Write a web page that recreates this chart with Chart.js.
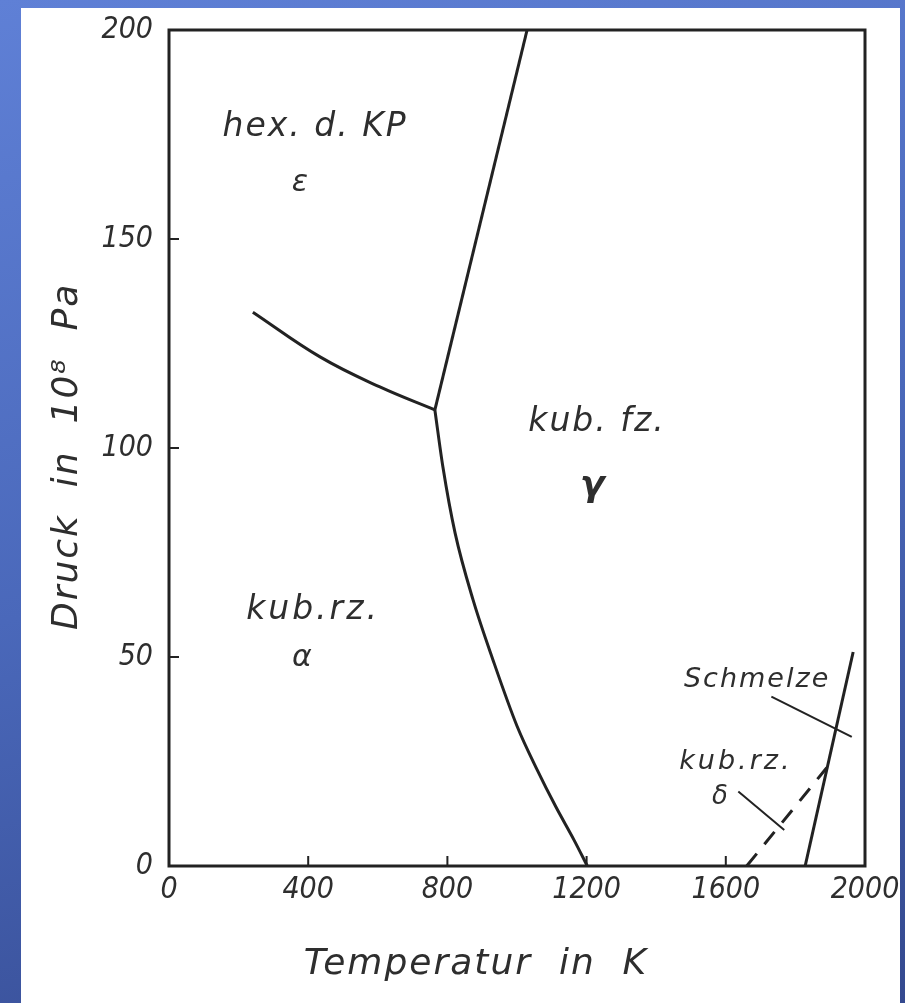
<!DOCTYPE html>
<html lang="de">
<head>
<meta charset="UTF-8">
<title>Zustandsdiagramm Eisen</title>
<script src="https://cdn.jsdelivr.net/npm/chart.js"></script>
<style>
  html, body { margin: 0; padding: 0; }
  body {
    width: 905px;
    height: 1003px;
    overflow: hidden;
    position: relative;
    background: linear-gradient(165deg, #5f80d6 0%, #4a68ba 50%, #34498f 100%);
  }
  .sheet {
    position: absolute;
    left: 21px;
    top: 8px;
    width: 879px;
    height: 995px;
    background: #fff;
  }
  #chart { position: absolute; left: 0; top: 0; }
</style>
</head>
<body>
<div class="sheet"></div>
<canvas id="chart" width="905" height="1003"></canvas>
<script>
const xTicks = [0, 400, 800, 1200, 1600, 2000];
const yTicks = [0, 50, 100, 150, 200];

// alpha / epsilon
const alphaEpsT = [241, 434, 606, 764];
const alphaEpsP = [132.5, 121.8, 114.6, 109.1];
// epsilon / gamma
const epsGammaT = [764, 1029];
const epsGammaP = [109.1, 200];
// alpha / gamma
const alphaGammaT = [764, 787, 822, 874, 931, 1000, 1058, 1112, 1164, 1202];
const alphaGammaP = [109.1, 95.5, 79.7, 63.6, 49.3, 33.5, 23.0, 14.1, 6.2, 0];
// Schmelzkurve
const meltT = [1828, 1966];
const meltP = [0, 51.2];
// gamma / delta (gestrichelt)
const deltaT = [1660, 1890];
const deltaP = [0, 23.5];
// Hinweisstriche
const schmelzPtrT = [1731, 1962];
const schmelzPtrP = [40.5, 30.9];
const deltaPtrT = [1636, 1768];
const deltaPtrP = [17.8, 8.6];

// Beschriftungen im Diagramm (Lage in Datenkoordinaten)
const labels = [
  { text: "hex. d. KP", t: 420, p: 176.6, size: 33, sp: 2 },
  { text: "ε", t: 376, p: 163.4, size: 30, sp: 0 },
  { text: "kub. fz.", t: 1230, p: 106.2, size: 33, sp: 2 },
  { text: "γ", t: 1216, p: 90.7, size: 36, sp: 0, bold: true },
  { text: "kub.rz.", t: 414, p: 61.2, size: 33, sp: 3 },
  { text: "α", t: 382, p: 49.8, size: 30, sp: 0 },
  { text: "Schmelze", t: 1690, p: 44.5, size: 27, sp: 2 },
  { text: "kub.rz.", t: 1629, p: 24.9, size: 27, sp: 3 },
  { text: "δ", t: 1583, p: 16.5, size: 26, sp: 0 }
];

const ink = "#222";
const textInk = "#2e2e2e";
const fontFam = "'DejaVu Sans', sans-serif";
const tickFam = "'DejaVu Sans Condensed', 'DejaVu Sans', sans-serif";

function pts(ts, ps) {
  return ts.map((t, i) => ({ x: t, y: ps[i] }));
}

function line(ts, ps, extra) {
  return Object.assign({
    data: pts(ts, ps),
    showLine: true,
    borderColor: ink,
    borderWidth: 3,
    pointRadius: 0,
    fill: false
  }, extra || {});
}

// Rahmen und nach innen zeigende Striche
const framePlugin = {
  id: "frame",
  afterDraw(chart) {
    const { ctx, chartArea: a, scales } = chart;
    ctx.save();
    ctx.strokeStyle = ink;
    ctx.lineWidth = 3;
    ctx.strokeRect(a.left, a.top, a.right - a.left, a.bottom - a.top);
    ctx.lineWidth = 2;
    ctx.beginPath();
    xTicks.slice(1, -1).forEach(v => {
      const x = scales.x.getPixelForValue(v);
      ctx.moveTo(x, a.bottom);
      ctx.lineTo(x, a.bottom - 10);
    });
    yTicks.slice(1, -1).forEach(v => {
      const y = scales.y.getPixelForValue(v);
      ctx.moveTo(a.left, y);
      ctx.lineTo(a.left + 10, y);
    });
    ctx.stroke();
    ctx.restore();
  }
};

// Texte im Feld und Achsentitel
const textPlugin = {
  id: "texts",
  afterDraw(chart) {
    const { ctx, chartArea: a, scales } = chart;
    ctx.save();
    ctx.fillStyle = textInk;
    ctx.textAlign = "center";
    ctx.textBaseline = "middle";
    labels.forEach(l => {
      ctx.font = (l.bold ? "bold " : "") + "italic " + l.size + "px " + fontFam;
      ctx.letterSpacing = l.sp + "px";
      ctx.fillText(l.text, scales.x.getPixelForValue(l.t), scales.y.getPixelForValue(l.p));
    });

    ctx.font = "italic 36px " + fontFam;
    ctx.letterSpacing = "2px";
    ctx.fillText("Temperatur  in  K", scales.x.getPixelForValue(882), a.bottom + 99);

    ctx.translate(68, scales.y.getPixelForValue(98));
    ctx.rotate(-Math.PI / 2);
    ctx.fillText("Druck  in  10⁸  Pa", 0, 0);
    ctx.restore();
  }
};

const tickFont = { family: tickFam, size: 30, style: "italic" };

new Chart(document.getElementById("chart"), {
  type: "scatter",
  data: {
    datasets: [
      line(alphaEpsT, alphaEpsP, { tension: 0.4 }),
      line(epsGammaT, epsGammaP),
      line(alphaGammaT, alphaGammaP, { cubicInterpolationMode: "monotone" }),
      line(meltT, meltP),
      line(deltaT, deltaP, { borderDash: [16, 12] }),
      line(schmelzPtrT, schmelzPtrP, { borderWidth: 2 }),
      line(deltaPtrT, deltaPtrP, { borderWidth: 2 })
    ]
  },
  options: {
    responsive: false,
    animation: false,
    layout: { padding: { top: 30, right: 40, left: 0, bottom: 0 } },
    plugins: { legend: { display: false }, tooltip: { enabled: false } },
    scales: {
      x: {
        type: "linear",
        min: 0,
        max: 2000,
        afterBuildTicks: s => { s.ticks = xTicks.map(v => ({ value: v })); },
        afterFit: s => { s.height = 137; s.paddingLeft = 0; s.paddingRight = 0; },
        grid: { display: false, drawTicks: false },
        border: { display: false },
        ticks: {
          font: tickFont, color: textInk, padding: 6, maxRotation: 0, autoSkip: false,
          callback: v => String(v)
        }
      },
      y: {
        type: "linear",
        min: 0,
        max: 200,
        afterBuildTicks: s => { s.ticks = yTicks.map(v => ({ value: v })); },
        afterFit: s => { s.width = 169; s.paddingTop = 0; s.paddingBottom = 0; },
        grid: { display: false, drawTicks: false },
        border: { display: false },
        ticks: {
          font: tickFont, color: textInk, padding: 16, autoSkip: false,
          callback: v => String(v)
        }
      }
    }
  },
  plugins: [framePlugin, textPlugin]
});
</script>
</body>
</html>
